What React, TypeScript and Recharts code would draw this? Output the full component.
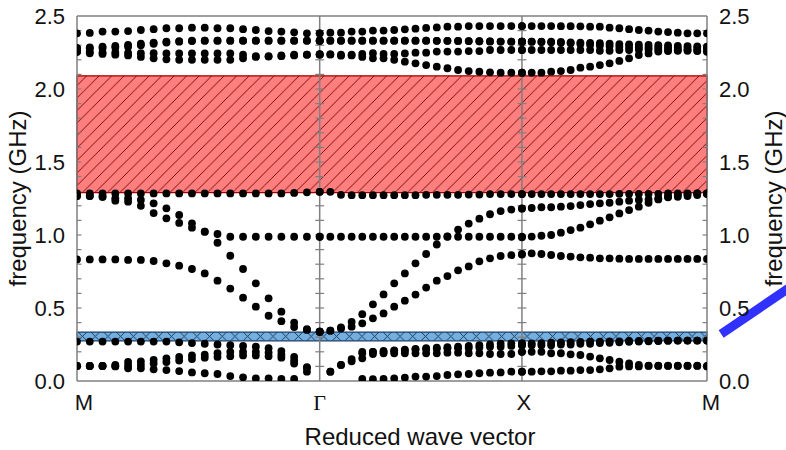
import { Label, ReferenceArea, ReferenceLine, Scatter, ScatterChart, XAxis, YAxis } from 'recharts';

const pathLabels = ['M', 'Γ', 'X', 'M'];
const segmentLengths = [1.2, 1.0, 0.915];
const pointsPerSegment = 20;
const yTicks = [0, 0.5, 1.0, 1.5, 2.0, 2.5];
const redGap = [1.29, 2.09];
const blueGap = [0.275, 0.335];

// frequencies (GHz), one row per path segment: M→Γ, Γ→X, X→M
const bandTop = [
  2.381, 2.384, 2.393, 2.393, 2.397, 2.404, 2.41, 2.416, 2.416, 2.42, 2.42, 2.416, 2.416, 2.41, 2.404, 2.397, 2.393, 2.388, 2.381, 2.381,
  2.381, 2.386, 2.386, 2.393, 2.393, 2.4, 2.4, 2.404, 2.409, 2.413, 2.418, 2.422, 2.427, 2.427, 2.431, 2.431, 2.431, 2.431, 2.431, 2.431,
  2.431, 2.431, 2.431, 2.431, 2.43, 2.43, 2.429, 2.427, 2.427, 2.42, 2.416, 2.41, 2.404, 2.4, 2.393, 2.39, 2.386, 2.381, 2.381, 2.381,
];
const bandD2 = [
  2.279, 2.285, 2.29, 2.295, 2.302, 2.31, 2.318, 2.324, 2.328, 2.331, 2.331, 2.331, 2.331, 2.331, 2.331, 2.331, 2.331, 2.331, 2.331, 2.331,
  2.331, 2.331, 2.331, 2.331, 2.331, 2.331, 2.331, 2.331, 2.331, 2.331, 2.331, 2.33, 2.33, 2.329, 2.328, 2.327, 2.326, 2.325, 2.324, 2.324,
  2.324, 2.324, 2.324, 2.324, 2.322, 2.32, 2.318, 2.316, 2.314, 2.311, 2.308, 2.306, 2.304, 2.302, 2.3, 2.298, 2.296, 2.294, 2.292, 2.29,
];
const bandD5 = [
  2.279, 2.279, 2.28, 2.285, 2.29, 2.3, 2.31, 2.318, 2.324, 2.328, 2.331, 2.331, 2.331, 2.331, 2.331, 2.331, 2.331, 2.331, 2.331, 2.331,
  2.331, 2.331, 2.331, 2.331, 2.331, 2.331, 2.331, 2.331, 2.331, 2.331, 2.331, 2.33, 2.33, 2.329, 2.328, 2.327, 2.326, 2.325, 2.324, 2.324,
  2.324, 2.324, 2.322, 2.32, 2.317, 2.313, 2.308, 2.303, 2.298, 2.294, 2.29, 2.288, 2.286, 2.285, 2.284, 2.283, 2.282, 2.281, 2.28, 2.279,
];
const bandD3 = [
  2.255, 2.255, 2.25, 2.25, 2.248, 2.245, 2.245, 2.244, 2.244, 2.244, 2.244, 2.244, 2.244, 2.235, 2.225, 2.225, 2.23, 2.235, 2.235, 2.237,
  2.237, 2.237, 2.235, 2.235, 2.24, 2.245, 2.24, 2.24, 2.244, 2.249, 2.249, 2.256, 2.256, 2.256, 2.26, 2.26, 2.267, 2.267, 2.267, 2.267,
  2.267, 2.267, 2.267, 2.267, 2.267, 2.267, 2.267, 2.267, 2.262, 2.262, 2.267, 2.267, 2.27, 2.27, 2.27, 2.267, 2.267, 2.267, 2.264, 2.26,
];
const bandD4 = [
  2.255, 2.245, 2.24, 2.235, 2.23, 2.22, 2.21, 2.203, 2.2, 2.2, 2.2, 2.2, 2.2, 2.21, 2.22, 2.222, 2.225, 2.23, 2.235, 2.237,
  2.237, 2.237, 2.228, 2.23, 2.22, 2.21, 2.21, 2.2, 2.187, 2.176, 2.164, 2.153, 2.142, 2.13, 2.123, 2.118, 2.114, 2.112, 2.112, 2.112,
  2.112, 2.112, 2.112, 2.119, 2.123, 2.13, 2.146, 2.153, 2.164, 2.176, 2.192, 2.21, 2.233, 2.244, 2.256, 2.26, 2.262, 2.262, 2.26, 2.255,
];
const bandC0 = [
  1.285, 1.285, 1.285, 1.285, 1.285, 1.285, 1.285, 1.285, 1.285, 1.285, 1.285, 1.285, 1.285, 1.285, 1.285, 1.285, 1.285, 1.288, 1.292, 1.296,
  1.296, 1.296, 1.275, 1.273, 1.273, 1.273, 1.273, 1.273, 1.273, 1.273, 1.275, 1.275, 1.275, 1.275, 1.277, 1.277, 1.28, 1.28, 1.28, 1.28,
  1.28, 1.28, 1.28, 1.28, 1.28, 1.28, 1.28, 1.28, 1.28, 1.28, 1.282, 1.282, 1.282, 1.282, 1.282, 1.285, 1.285, 1.285, 1.285, 1.285,
];
const bandB1 = [
  1.267, 1.267, 1.262, 1.251, 1.251, 1.24, 1.217, 1.183, 1.137, 1.08, 1.023, 1.007, 0.988, 0.988, 0.988, 0.988, 0.988, 0.988, 0.988, 0.988,
  0.988, 0.988, 0.988, 0.988, 0.988, 0.988, 0.988, 0.988, 0.988, 0.988, 0.988, 0.988, 0.988, 0.988, 0.988, 0.988, 0.988, 0.988, 0.988, 0.988,
  0.984, 0.989, 0.995, 1.0, 1.016, 1.034, 1.05, 1.073, 1.098, 1.121, 1.148, 1.171, 1.194, 1.221, 1.244, 1.262, 1.274, 1.281, 1.285, 1.285,
];
const bandB2 = [
  1.267, 1.267, 1.262, 1.235, 1.228, 1.2, 1.15, 1.114, 1.083, 1.05, 1.023, 0.947, 0.858, 0.767, 0.669, 0.566, 0.475, 0.4, 0.355, 0.338,
  0.338, 0.345, 0.367, 0.405, 0.458, 0.525, 0.593, 0.669, 0.737, 0.806, 0.87, 0.935, 0.99, 1.037, 1.078, 1.112, 1.142, 1.164, 1.174, 1.18,
  1.183, 1.185, 1.19, 1.19, 1.194, 1.198, 1.205, 1.212, 1.217, 1.221, 1.228, 1.235, 1.24, 1.244, 1.251, 1.258, 1.262, 1.267, 1.274, 1.281,
];
const bandA5 = [
  0.833, 0.833, 0.833, 0.833, 0.829, 0.829, 0.822, 0.806, 0.79, 0.767, 0.737, 0.687, 0.633, 0.571, 0.509, 0.447, 0.41, 0.37, 0.35, 0.338,
  0.338, 0.345, 0.36, 0.372, 0.395, 0.429, 0.463, 0.509, 0.55, 0.592, 0.64, 0.687, 0.719, 0.758, 0.785, 0.82, 0.84, 0.856, 0.862, 0.866,
  0.87, 0.874, 0.87, 0.863, 0.856, 0.852, 0.847, 0.845, 0.84, 0.84, 0.838, 0.836, 0.836, 0.836, 0.836, 0.836, 0.836, 0.836, 0.836, 0.836,
];
const bandL1 = [
  0.103, 0.103, 0.103, 0.1, 0.087, 0.087, 0.08, 0.075, 0.068, 0.059, 0.053, 0.048, 0.034, 0.025, 0.018, 0.018, 0.014, 0.014, null, null,
  null, null, null, null, 0.014, 0.012, 0.014, 0.018, 0.023, 0.03, 0.03, 0.034, 0.041, 0.046, 0.048, 0.053, 0.057, 0.059, 0.064, 0.064,
  0.064, 0.064, 0.066, 0.066, 0.071, 0.071, 0.075, 0.075, 0.08, 0.087, 0.098, 0.1, 0.1, 0.103, 0.103, 0.103, 0.103, 0.103, 0.103, 0.1,
];
const bandL2 = [
  0.103, 0.103, 0.103, 0.103, 0.105, 0.11, 0.12, 0.13, 0.14, 0.15, 0.16, 0.165, 0.17, 0.175, 0.175, 0.17, 0.16, 0.12, 0.064, null,
  null, 0.064, 0.11, 0.135, 0.155, 0.185, 0.19, 0.19, 0.19, 0.19, 0.19, 0.19, 0.194, 0.194, 0.19, 0.19, 0.185, 0.185, 0.185, 0.2,
  0.2, 0.2, 0.2, 0.19, 0.19, 0.183, 0.178, 0.167, 0.155, 0.144, 0.132, 0.121, 0.11, 0.105, 0.105, 0.105, 0.105, 0.105, 0.105, 0.103,
];
const bandL3 = [
  0.103, 0.103, 0.103, 0.11, 0.13, 0.135, 0.145, 0.155, 0.165, 0.175, 0.18, 0.19, 0.2, 0.2, 0.2, 0.195, 0.18, 0.14, 0.09, null,
  null, 0.064, 0.11, 0.15, 0.19, 0.2, 0.2, 0.207, 0.207, 0.217, 0.22, 0.222, 0.224, 0.224, 0.226, 0.23, 0.235, 0.235, 0.24, 0.245,
  0.245, 0.245, 0.245, 0.245, 0.25, 0.25, 0.255, 0.255, 0.26, 0.262, 0.265, 0.268, 0.27, 0.272, 0.274, 0.276, 0.277, 0.277, 0.277, 0.277,
];
const bandL4 = [
  0.27, 0.27, 0.27, 0.27, 0.27, 0.27, 0.27, 0.27, 0.265, 0.26, 0.255, 0.25, 0.245, 0.24, 0.235, 0.225, 0.205, 0.165, 0.095, null,
  null, null, null, null, 0.2, 0.2, 0.207, 0.21, 0.215, 0.22, 0.225, 0.228, 0.232, 0.235, 0.24, 0.245, 0.25, 0.255, 0.258, 0.258,
  0.258, 0.258, 0.26, 0.262, 0.265, 0.266, 0.268, 0.27, 0.27, 0.272, 0.272, 0.274, 0.274, 0.275, 0.276, 0.276, 0.277, 0.277, 0.277, 0.277,
];

const bands = [
  bandTop, bandD2, bandD5, bandD3, bandD4, bandC0, bandB1, bandB2, bandA5, bandL1, bandL2, bandL3, bandL4,
];

// k-path coordinates of the sampled points
const segmentStarts = segmentLengths.map((_, s) => segmentLengths.slice(0, s).reduce((a, b) => a + b, 0));
const kEnd = segmentLengths.reduce((a, b) => a + b, 0);
const kSymmetry = [...segmentStarts, kEnd];
const kPath = segmentLengths.flatMap((len, s) =>
  Array.from({ length: pointsPerSegment }, (_, i) => segmentStarts[s] + (len * i) / (pointsPerSegment - 1)),
);

const bandData = bands.map((band) =>
  band
    .map((f, j) => (f == null ? null : { k: kPath[j], f }))
    .filter((p): p is { k: number; f: number } => p !== null),
);

const minorTicks = Array.from({ length: 24 }, (_, i) => (i + 1) / 10);

const FONT = '"Liberation Sans", Arial, sans-serif';
const FRAME = '#7f7f7f';
const TICK_DX = 0.022;
const labelShift = [7, 0, 2, 4];

const Dot = (props: any) => <circle cx={props.cx} cy={props.cy} r={3.9} fill="#000" />;

const PathTick = (props: any) => {
  const { x, y, index } = props;
  const text = pathLabels[index];
  return (
    <text
      x={x + labelShift[index]}
      y={y}
      dy="0.71em"
      textAnchor="middle"
      fontSize={22}
      fill="#111"
      fontFamily={text === 'Γ' ? '"Liberation Serif", serif' : FONT}
    >
      {text}
    </text>
  );
};

const sideTitle = (offset: number) => (props: any) => {
  const { viewBox } = props;
  const cx = viewBox.x + offset;
  const cy = viewBox.y + viewBox.height / 2;
  return (
    <text
      x={cx}
      y={cy}
      transform={`rotate(-90 ${cx} ${cy})`}
      textAnchor="middle"
      dominantBaseline="central"
      fontSize={24}
      fill="#111"
      fontFamily={FONT}
    >
      frequency (GHz)
    </text>
  );
};

const bottomTitle = (props: any) => {
  const { viewBox } = props;
  return (
    <text
      x={viewBox.x + viewBox.width / 2 + 28}
      y={viewBox.y + 64}
      textAnchor="middle"
      fontSize={24}
      fill="#111"
      fontFamily={FONT}
    >
      Reduced wave vector
    </text>
  );
};

export default function App() {
  return (
    <div style={{ width: 786, height: 450, background: '#fff' }}>
      <style>{'body{margin:0}'}</style>
      <ScatterChart width={786} height={450} margin={{ top: 16, right: 0, bottom: 0, left: 0 }}>
        <defs>
          <pattern id="redHatch" patternUnits="userSpaceOnUse" width="12.5" height="12.5">
            <rect width="12.5" height="12.5" fill="rgba(255,0,0,0.5)" />
            <path d="M0,12.5 L12.5,0 M-3,3 L3,-3 M9.5,15.5 L15.5,9.5" stroke="#6a0000" strokeWidth="0.9" />
          </pattern>
          <pattern id="blueHatch" patternUnits="userSpaceOnUse" y="330" width="12.7" height="12.7">
            <rect width="12.7" height="12.7" fill="rgba(0,110,200,0.55)" />
            <path d="M0,0 L12.7,12.7 M12.7,0 L0,12.7" stroke="#17324f" strokeWidth="0.9" />
          </pattern>
        </defs>
        <XAxis
          type="number"
          dataKey="k"
          domain={[0, kEnd]}
          ticks={kSymmetry}
          interval={0}
          allowDataOverflow
          axisLine={false}
          tickLine={false}
          tickSize={0}
          tickMargin={13}
          height={69}
          tick={PathTick}
          label={<Label content={bottomTitle} />}
        />
        <YAxis
          yAxisId="left"
          type="number"
          dataKey="f"
          domain={[0, 2.5]}
          ticks={yTicks}
          interval={0}
          allowDataOverflow
          tickFormatter={(v: number) => v.toFixed(1)}
          axisLine={false}
          tickLine={false}
          tickSize={0}
          tickMargin={12}
          width={77}
          tick={{ fontSize: 22, fill: '#111', fontFamily: FONT }}
          label={<Label content={sideTitle(17)} />}
        />
        <YAxis
          yAxisId="right"
          orientation="right"
          type="number"
          dataKey="f"
          domain={[0, 2.5]}
          ticks={yTicks}
          interval={0}
          allowDataOverflow
          tickFormatter={(v: number) => v.toFixed(1)}
          axisLine={false}
          tickLine={false}
          tickSize={0}
          tickMargin={12}
          width={79}
          tick={{ fontSize: 22, fill: '#111', fontFamily: FONT }}
          label={<Label content={sideTitle(66)} />}
        />

        {kSymmetry.map((k) => (
          <ReferenceLine key={`v${k}`} yAxisId="left" x={k} stroke={FRAME} strokeWidth={1.5} />
        ))}
        <ReferenceLine yAxisId="left" y={0} stroke={FRAME} strokeWidth={1.5} />
        <ReferenceLine yAxisId="left" y={2.5} stroke={FRAME} strokeWidth={1.5} />
        {minorTicks.map((t) => (
          <ReferenceLine
            key={`tl${t}`}
            yAxisId="left"
            segment={[{ x: 0, y: t }, { x: TICK_DX, y: t }]}
            stroke={FRAME}
            strokeWidth={1.2}
          />
        ))}
        {minorTicks.map((t) => (
          <ReferenceLine
            key={`tr${t}`}
            yAxisId="left"
            segment={[{ x: kEnd - TICK_DX, y: t }, { x: kEnd, y: t }]}
            stroke={FRAME}
            strokeWidth={1.2}
          />
        ))}
        {segmentStarts.slice(1).map((k) =>
          minorTicks.map((t) => (
            <ReferenceLine
              key={`tm${k}-${t}`}
              yAxisId="left"
              segment={[{ x: k - TICK_DX, y: t }, { x: k + TICK_DX, y: t }]}
              stroke={FRAME}
              strokeWidth={1.2}
            />
          )),
        )}

        {bandData.map((data, i) => (
          <Scatter
            key={i}
            yAxisId={i === 0 ? 'right' : 'left'}
            data={data}
            dataKey="f"
            shape={Dot}
            isAnimationActive={false}
          />
        ))}

        <ReferenceArea
          yAxisId="left"
          x1={0}
          x2={kEnd}
          y1={redGap[0]}
          y2={redGap[1]}
          fill="url(#redHatch)"
          fillOpacity={1}
          stroke="#a00000"
          strokeWidth={1.3}
        />
        <ReferenceArea
          yAxisId="left"
          x1={0}
          x2={kEnd}
          y1={blueGap[0]}
          y2={blueGap[1]}
          fill="url(#blueHatch)"
          fillOpacity={1}
          stroke="#1d3f66"
          strokeWidth={1.2}
        />
        <ReferenceLine
          yAxisId="left"
          ifOverflow="visible"
          segment={[{ x: 3.185, y: 0.322 }, { x: 3.58, y: 0.693 }]}
          stroke="#3030ff"
          strokeWidth={9}
        />
      </ScatterChart>
    </div>
  );
}
